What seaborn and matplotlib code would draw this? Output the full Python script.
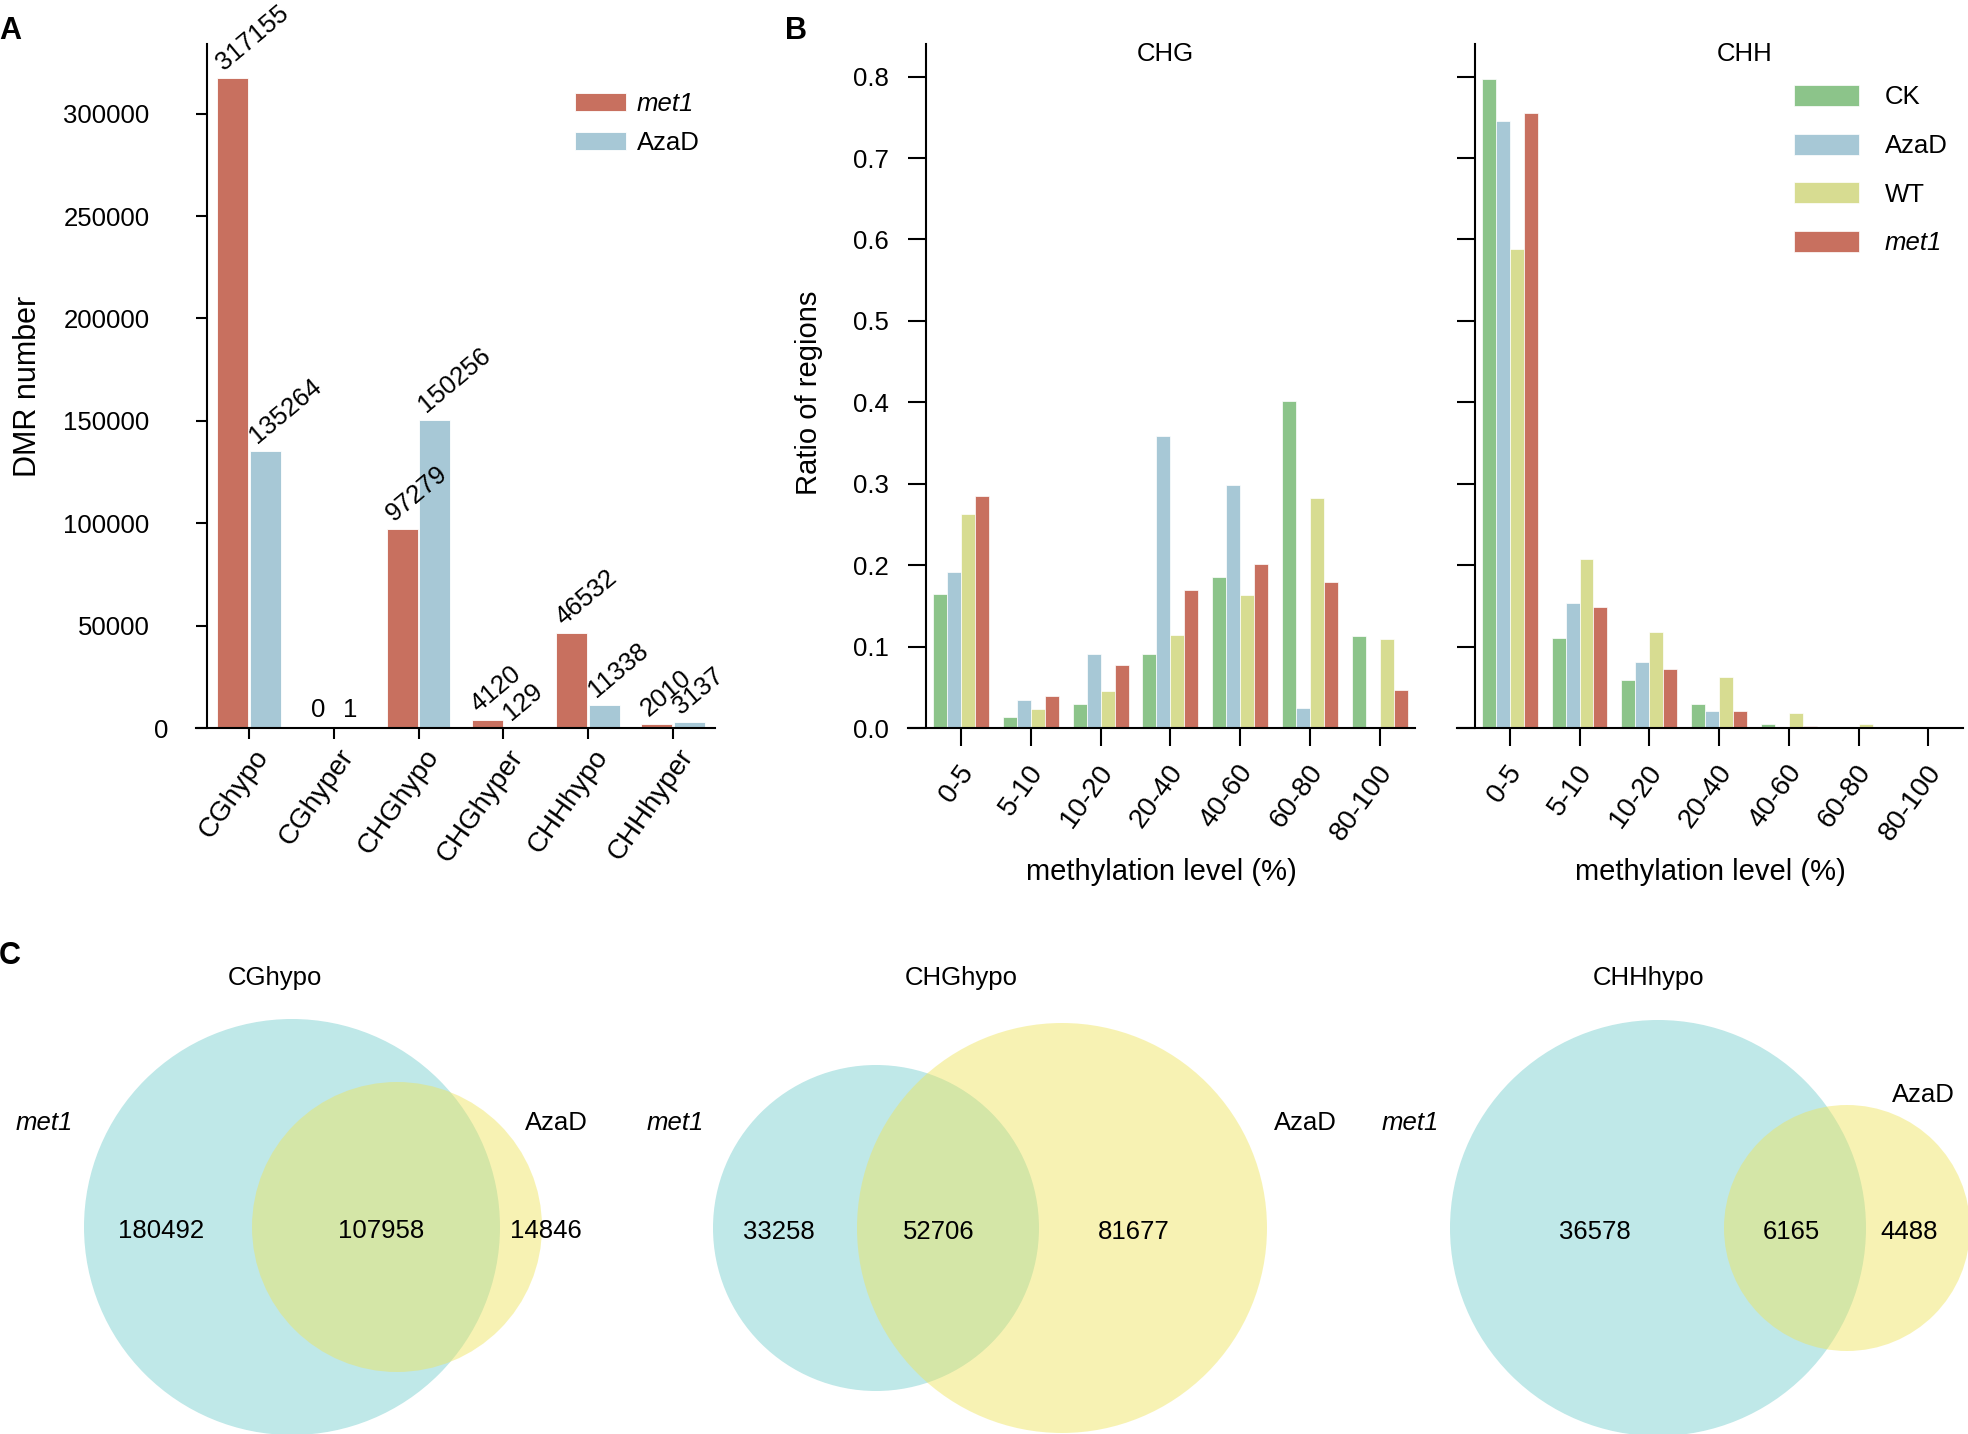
#!/usr/bin/env python3
"""DMR counts, methylation level distribution and DMR overlap (Venn) figure."""

import matplotlib
matplotlib.use("Agg")
import matplotlib.pyplot as plt
import matplotlib.transforms as mtransforms
from matplotlib.patches import Circle
import pandas as pd
import seaborn as sns

# ---- panel A: DMR numbers ----
dmr_types = ["CGhypo", "CGhyper", "CHGhypo", "CHGhyper", "CHHhypo", "CHHhyper"]
dmr_met1 = [317155, 0, 97279, 4120, 46532, 2010]
dmr_azad = [135264, 1, 150256, 129, 11338, 3137]

# ---- panel B: ratio of regions by methylation level ----
meth_bins = ["0-5", "5-10", "10-20", "20-40", "40-60", "60-80", "80-100"]
samples = ["CK", "AzaD", "WT", "met1"]
chg_ck = [0.165, 0.014, 0.030, 0.091, 0.185, 0.402, 0.113]
chg_azad = [0.192, 0.034, 0.091, 0.358, 0.299, 0.024, 0.0]
chg_wt = [0.263, 0.023, 0.046, 0.114, 0.163, 0.282, 0.109]
chg_met1 = [0.285, 0.039, 0.077, 0.170, 0.202, 0.179, 0.047]
chh_ck = [0.797, 0.111, 0.059, 0.029, 0.005, 0.001, 0.0]
chh_azad = [0.745, 0.153, 0.081, 0.021, 0.001, 0.0, 0.0]
chh_wt = [0.588, 0.207, 0.118, 0.063, 0.018, 0.005, 0.0]
chh_met1 = [0.755, 0.148, 0.073, 0.021, 0.002, 0.0, 0.0]

# ---- panel C: overlaps of hypo DMRs ----
venn_titles = ["CGhypo", "CHGhypo", "CHHhypo"]
venn_met1_only = [180492, 33258, 36578]
venn_both = [107958, 52706, 6165]
venn_azad_only = [14846, 81677, 4488]

RED = "#C8705F"
BLUE = "#A7C8D6"
GREEN = "#8CC48A"
YELLOW = "#D7DC91"
PALETTE_B = {"CK": GREEN, "AzaD": BLUE, "WT": YELLOW, "met1": RED}

# venn geometry in figure pixels (layout only)
VENN = [
    dict(c1=(292, 1227), r1=208, c2=(397, 1227), r2=145,
         title=(275, 978), lab1=(44, 1123), lab2=(556, 1123),
         nums=(161, 381, 546)),
    dict(c1=(876, 1228), r1=163, c2=(1062, 1228), r2=205,
         title=(961, 978), lab1=(675, 1123), lab2=(1305, 1123),
         nums=(779, 939, 1134)),
    dict(c1=(1658, 1228), r1=208, c2=(1847, 1228), r2=123,
         title=(1649, 978), lab1=(1410, 1123), lab2=(1923, 1095),
         nums=(1595, 1791, 1909)),
]

W, H = 1968, 1434
FS = 18.5
FS_X = 20

sns.set_style("ticks")
plt.rcParams["font.family"] = ["Liberation Sans", "DejaVu Sans"]
plt.rcParams.update({
    "axes.linewidth": 1.5,
    "axes.edgecolor": "black",
    "axes.labelcolor": "black",
    "text.color": "black",
    "xtick.color": "black",
    "ytick.color": "black",
})

fig = plt.figure(figsize=(W / 100, H / 100), dpi=100)


def px_axes(left, right, top, bottom):
    return fig.add_axes([left / W, 1 - bottom / H, (right - left) / W, (bottom - top) / H])


def px_offset(dx, dy):
    return mtransforms.ScaledTranslation(dx / 100, dy / 100, fig.dpi_scale_trans)


def style_xticklabels(ax, dx_px, rot):
    for lab in ax.get_xticklabels():
        lab.set_rotation(rot)
        lab.set_ha("right")
        lab.set_va("top")
        lab.set_fontsize(FS_X)
        lab.set_rotation_mode("anchor")
        lab.set_transform(lab.get_transform() + px_offset(dx_px, 0))


# ---------------- Panel A ----------------
axA = px_axes(195.6, 715.4, 44, 728)
dfA = pd.DataFrame({
    "type": dmr_types * 2,
    "sample": ["met1"] * len(dmr_types) + ["AzaD"] * len(dmr_types),
    "count": dmr_met1 + dmr_azad,
})
sns.barplot(data=dfA, x="type", y="count", hue="sample", order=dmr_types,
            hue_order=["met1", "AzaD"], palette={"met1": RED, "AzaD": BLUE},
            width=0.77, gap=0.05, edgecolor="white", linewidth=0.6,
            saturation=1, errorbar=None, ax=axA)
axA.set_xlim(-0.63, 5.5)
axA.set_ylim(0, 334000)
axA.spines["left"].set_position(("data", -0.5))
axA.set_yticks([0, 50000, 100000, 150000, 200000, 250000, 300000])
axA.tick_params(axis="both", labelsize=FS, length=8, width=1.5)
axA.tick_params(axis="y", pad=33)
axA.tick_params(axis="x", pad=4)
sns.despine(ax=axA)
style_xticklabels(axA, 4, 55)
# the zero label sits closer to the axis in the original
zero_lab = axA.get_yticklabels()[0]
zero_lab.set_transform(zero_lab.get_transform() + px_offset(19, 0))
axA.set_xlabel("")
axA.set_ylabel("DMR number", fontsize=22)
axA.yaxis.set_label_coords(-0.293, 0.5)

for i, (a, b) in enumerate(zip(dmr_met1, dmr_azad)):
    for x, v in ((i - 0.19, a), (i + 0.19, b)):
        if v < 10:
            axA.text(x, v, f"{v}", ha="center", va="bottom", fontsize=FS,
                     transform=axA.transData + px_offset(0, 6))
        else:
            axA.text(x - 0.1, v, f"{v}", ha="left", va="baseline", fontsize=FS,
                     rotation=40, rotation_mode="anchor",
                     transform=axA.transData + px_offset(0, 7))

handles, labels = axA.get_legend_handles_labels()
legA = axA.legend(handles, labels, loc="upper left", bbox_to_anchor=(0.71, 0.945),
                  frameon=False, fontsize=FS, handlelength=2.0, handleheight=0.72,
                  handletextpad=0.4, labelspacing=0.6, borderaxespad=0)
legA.get_texts()[0].set_style("italic")

# ---------------- Panel B ----------------
def long_frame(ck, az, wt, m1):
    rows = []
    for s, vals in zip(samples, (ck, az, wt, m1)):
        for b, v in zip(meth_bins, vals):
            rows.append({"bin": b, "sample": s, "ratio": v})
    return pd.DataFrame(rows)


axB1 = px_axes(908, 1414.6, 44, 728)
axB2 = px_axes(1456.7, 1963.3, 44, 728)
for ax, df, title, tx in ((axB1, long_frame(chg_ck, chg_azad, chg_wt, chg_met1), "CHG", 0.507),
                          (axB2, long_frame(chh_ck, chh_azad, chh_wt, chh_met1), "CHH", 0.568)):
    sns.barplot(data=df, x="bin", y="ratio", hue="sample", order=meth_bins,
                hue_order=samples, palette=PALETTE_B, width=0.8,
                edgecolor="white", linewidth=0.5, saturation=1,
                errorbar=None, ax=ax)
    ax.set_xlim(-0.76, 6.5)
    ax.set_ylim(0, 0.84)
    ax.spines["left"].set_position(("data", -0.5))
    ax.set_yticks([0.0, 0.1, 0.2, 0.3, 0.4, 0.5, 0.6, 0.7, 0.8])
    ax.tick_params(axis="both", labelsize=FS, length=13, width=1.5)
    ax.tick_params(axis="y", pad=14)
    ax.tick_params(axis="x", pad=10)
    sns.despine(ax=ax)
    style_xticklabels(ax, -3, 54)
    ax.set_xlabel("methylation level (%)", fontsize=21)
    ax.xaxis.set_label_coords(0.5, -0.19)
    ax.set_ylabel("")
    ax.text(tx, 0.985, title, transform=ax.transAxes, ha="center", va="center", fontsize=FS)

axB1.set_yticklabels(["0.0", "0.1", "0.2", "0.3", "0.4", "0.5", "0.6", "0.7", "0.8"])
axB1.set_ylabel("Ratio of regions", fontsize=21)
axB1.yaxis.set_label_coords(-0.168, 0.49)
axB1.get_legend().remove()
axB2.set_yticklabels([])
handles, labels = axB2.get_legend_handles_labels()
legB = axB2.legend(handles, labels, loc="upper left", bbox_to_anchor=(0.645, 0.955),
                   frameon=False, fontsize=FS, handlelength=2.55, handleheight=0.87,
                   handletextpad=1.0, labelspacing=0.95, borderaxespad=0)
legB.get_texts()[3].set_style("italic")

# ---------------- Panel C ----------------
axC = fig.add_axes([0, 0, 1, 1], zorder=-1)
axC.set_xlim(0, W)
axC.set_ylim(H, 0)
axC.axis("off")
for g, title, n1, n12, n2 in zip(VENN, venn_titles, venn_met1_only, venn_both, venn_azad_only):
    axC.add_patch(Circle(g["c1"], g["r1"], facecolor="#71CCCC", alpha=0.45, edgecolor="none"))
    axC.add_patch(Circle(g["c2"], g["r2"], facecolor="#EFE458", alpha=0.45, edgecolor="none"))
    axC.text(*g["title"], title, ha="center", va="center", fontsize=FS)
    axC.text(*g["lab1"], "met1", ha="center", va="center", fontsize=FS, style="italic")
    axC.text(*g["lab2"], "AzaD", ha="center", va="center", fontsize=FS)
    ny = g["c1"][1] + 4
    for x, n in zip(g["nums"], (n1, n12, n2)):
        axC.text(x, ny, f"{n}", ha="center", va="center", fontsize=FS)

for letter, (x, y) in (("A", (10, 31)), ("B", (796, 31)), ("C", (10, 956))):
    fig.text(x / W, 1 - y / H, letter, ha="center", va="center", fontsize=22, fontweight="bold")

fig.savefig("out.png", dpi=100)
